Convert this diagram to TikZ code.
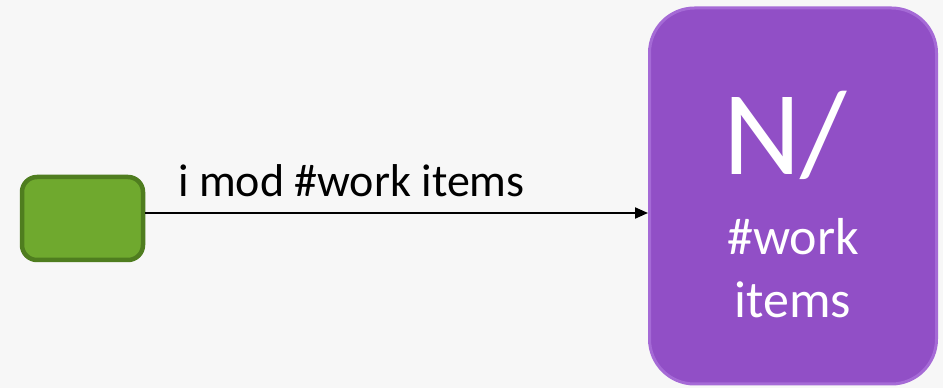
\documentclass[tikz,border=0pt]{standalone}
\usepackage{fontspec}
\setmainfont{Carlito}
\usepackage{xcolor}
\usetikzlibrary{positioning,arrows.meta,calc}

\definecolor{bgcol}{HTML}{F7F7F7}
\definecolor{leaffill}{HTML}{6FA92E}
\definecolor{leafline}{HTML}{4F7D1F}
\definecolor{groupfill}{HTML}{914FC6}
\definecolor{groupline}{HTML}{A56AD6}

\begin{document}
\begin{tikzpicture}[
  x=1pt, y=1pt,
  item/.style={draw=leafline, line width=4.5pt, fill=leaffill, rounded corners=15pt, minimum width=121pt, minimum height=83pt},
  group/.style={draw=groupline, line width=3pt, fill=groupfill, rounded corners=45pt, minimum width=287pt, minimum height=376pt},
  arr/.style={-{Triangle[length=13pt,width=11pt]}, line width=2pt},
  big/.style={text=white, font=\fontsize{120}{120}\selectfont, inner sep=0pt, anchor=base},
  small/.style={text=white, font=\fontsize{52}{52}\selectfont, inner sep=0pt, anchor=base}
]
\fill[bgcol] (0,0) rectangle (943,388);
\useasboundingbox (0,0) rectangle (943,388);

\node[item]  (src) at (82.5, 169.5) {};
\node[group] (grp) at (793, 192)  {};

\node[big]   (ratio) at (785, 213) {N/};
\node[small] (work)  at (793, 133) {\#work};
\node[small] (items) at (793, 70)  {items};

\coordinate (tail) at ([yshift=5.5pt]src.east);
\draw[arr] (tail) -- node[pos=0.41, anchor=base, yshift=16pt, font=\fontsize{46}{46}\selectfont, inner sep=0pt] (lbl) {i mod \#work items} (tail -| grp.west);

\end{tikzpicture}
\end{document}
